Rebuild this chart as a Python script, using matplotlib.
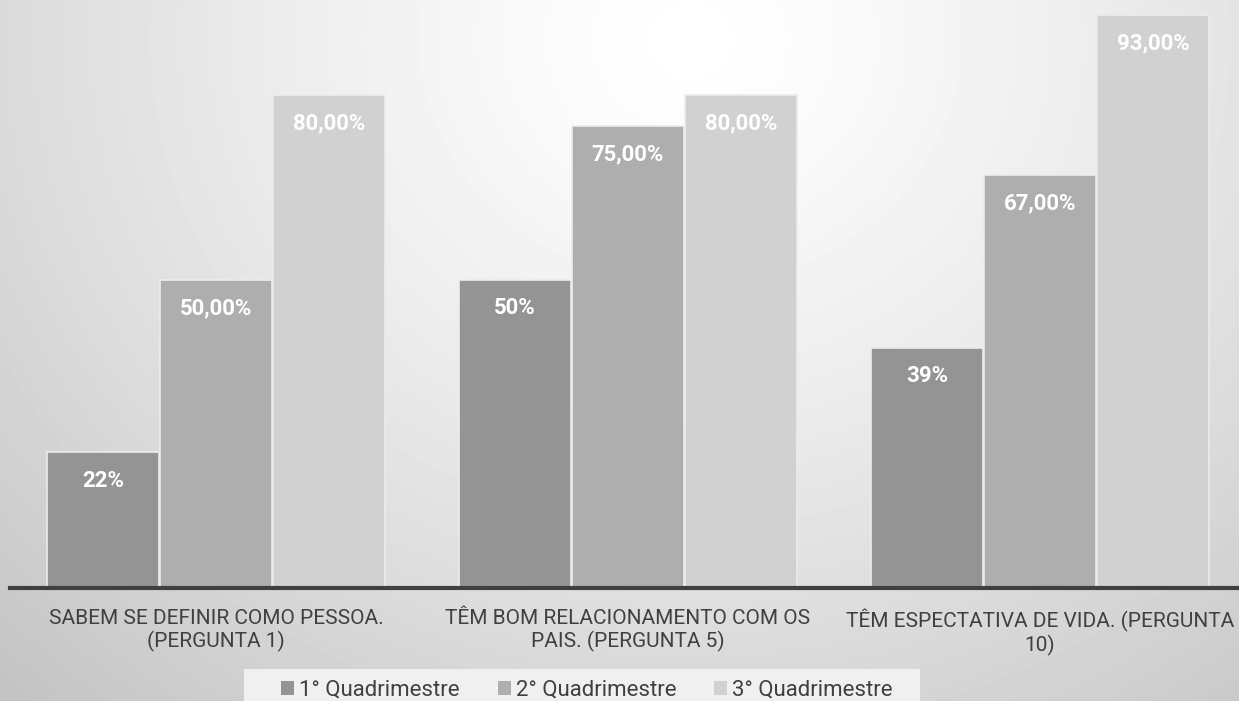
import matplotlib.pyplot as plt
import numpy as np
from matplotlib.patches import Patch, Rectangle

categories = [
    "SABEM SE DEFINIR COMO PESSOA.\n(PERGUNTA 1)",
    "TÊM BOM RELACIONAMENTO COM OS\nPAIS. (PERGUNTA 5)",
    "TÊM ESPECTATIVA DE VIDA. (PERGUNTA\n10)",
]
series = ["1° Quadrimestre", "2° Quadrimestre", "3° Quadrimestre"]
q1 = [22, 50, 39]
q2 = [50, 75, 67]
q3 = [80, 80, 93]
q1_labels = ["22%", "50%", "39%"]
q2_labels = ["50,00%", "75,00%", "67,00%"]
q3_labels = ["80,00%", "80,00%", "93,00%"]

colors = ["#949494", "#aeaeae", "#d1d1d1"]
FONT = "Roboto"


def main():
    W, H = 1239, 701
    fig = plt.figure(figsize=(W / 100, H / 100), dpi=100)

    # radial grey background
    bg = fig.add_axes([0, 0, 1, 1], zorder=-10)
    yy, xx = np.mgrid[0:H, 0:W]
    r = np.sqrt(((xx - 690) / 1.0) ** 2 + ((yy - 40) / 0.9) ** 2)
    v = 1.0 - 0.19 * np.clip(r / 850, 0, 1.3) ** 1.3
    bg.imshow(v, cmap="gray", vmin=0, vmax=1, aspect="auto",
              extent=[0, 1, 0, 1], origin="upper")
    bg.axis("off")
    # light box behind the legend
    bg.add_patch(Rectangle((244 / W, 0), (920 - 244) / W, 32 / H,
                           transform=bg.transAxes, facecolor="#f0f0f0",
                           edgecolor="none", zorder=2))

    ax = fig.add_axes([10 / W, (H - 588) / H, 1236 / W, 588 / H])
    ax.set_facecolor("none")
    x = np.arange(len(categories))
    off = 0.2743
    width = 0.27
    vals = [q1, q2, q3]
    labs = [q1_labels, q2_labels, q3_labels]
    for i in range(3):
        bars = ax.bar(x + (i - 1) * off, vals[i], width, color=colors[i],
                      edgecolor="#ececec", linewidth=1.2, label=series[i])
        for b, t in zip(bars, labs[i]):
            ax.text(b.get_x() + b.get_width() / 2, b.get_height() - 4.6, t,
                    ha="center", va="center", color="white",
                    fontsize=16, fontweight="bold", family=FONT)

    ax.set_xlim(-0.5, 2.5)
    ax.set_ylim(0, 588 / 6.16)
    for s in ["top", "right", "left"]:
        ax.spines[s].set_visible(False)
    ax.spines["bottom"].set_color("#404040")
    ax.spines["bottom"].set_linewidth(3)
    ax.set_yticks([])
    ax.set_xticks(x)
    ax.set_xticklabels(categories, fontsize=15, color="#404040",
                       family=FONT, linespacing=1.2)
    ax.tick_params(axis="x", length=0, pad=15)

    handles = [Patch(facecolor=c, edgecolor="none") for c in colors]
    leg = fig.legend(handles, series, loc="center",
                     bbox_to_anchor=(587 / W, 11 / H), ncol=3, frameon=False,
                     handlelength=0.59, handleheight=0.59,
                     handletextpad=0.23, columnspacing=1.7,
                     prop={"family": FONT, "size": 16}, borderpad=0)
    for t in leg.get_texts():
        t.set_color("#404040")

    fig.savefig("out.png", dpi=100)


if __name__ == "__main__":
    main()
